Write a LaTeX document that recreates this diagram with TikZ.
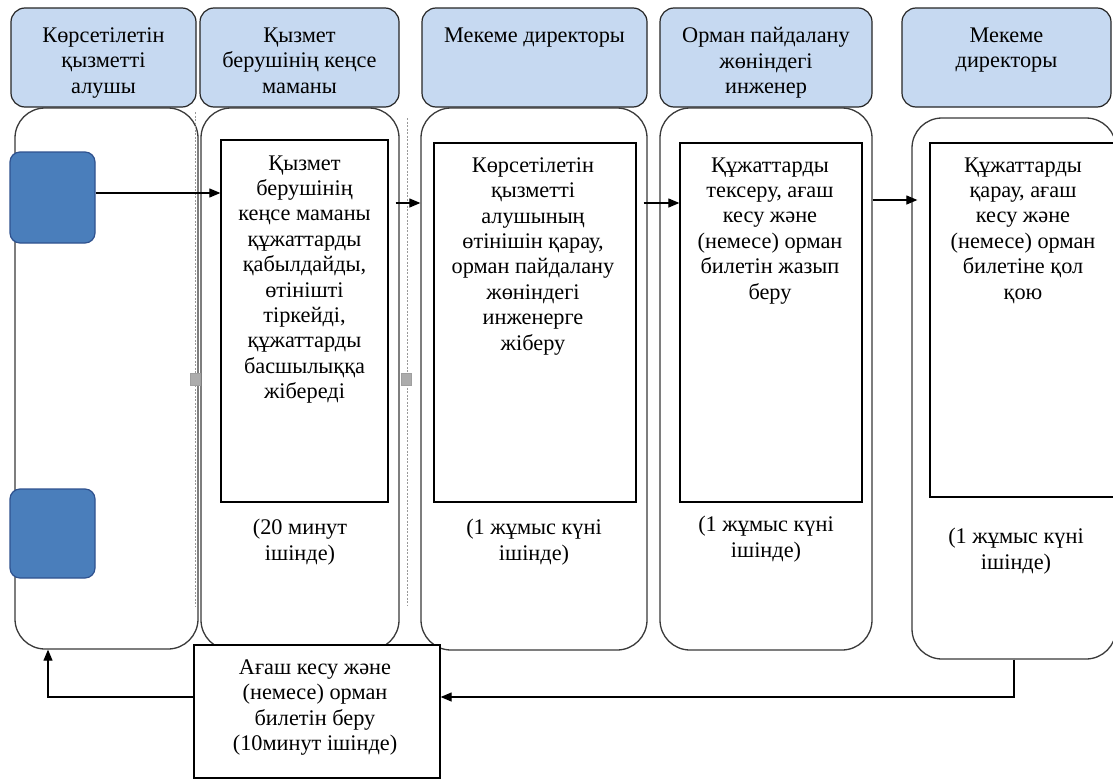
\documentclass[tikz,border=0pt]{standalone}
\usepackage{fontspec}
\setmainfont{Liberation Serif}
\usetikzlibrary{arrows.meta,calc}
\definecolor{hdrfill}{HTML}{C6D9F1}
\definecolor{bluesq}{HTML}{4A7EBB}
\definecolor{bluedraw}{HTML}{2F528F}
\definecolor{lanedraw}{HTML}{3A3A3A}
\begin{document}
\begin{tikzpicture}[x=1pt,y=-1pt,
 hdr/.style={draw=black!85, line width=1.2pt, fill=hdrfill, rounded corners=14pt, inner sep=0pt},
 lane/.style={draw=lanedraw, line width=1.3pt, fill=white, rounded corners=30pt, inner sep=0pt},
 stepbox/.style={draw=black, line width=1.3pt, fill=white, inner sep=0pt},
 txt/.style={align=center, font=\fontsize{22.3}{25.4}\selectfont, inner sep=0pt},
 bsq/.style={draw=bluedraw, line width=1.2pt, fill=bluesq, rounded corners=10pt, inner sep=0pt},
 arr/.style={draw=black, line width=1.2pt, -{Triangle[length=11pt,width=9pt]}},
 dline/.style={draw=gray!80, line width=0.7pt, dash pattern=on 2pt off 1.5pt},
 gsq/.style={fill=gray!65, draw=gray!75, inner sep=0pt, minimum width=10pt, minimum height=12pt}
]
\useasboundingbox (0,0) rectangle (1113,779);
\fill[white] (0,0) rectangle (1113,779);

% headers
\node[hdr, minimum width=185pt, minimum height=99pt] (h1) at (103.5,57.5) {};
\node[hdr, minimum width=199pt, minimum height=99pt] (h2) at (299.5,57.5) {};
\node[hdr, minimum width=225pt, minimum height=99pt] (h3) at (534.5,57.5) {};
\node[hdr, minimum width=212pt, minimum height=99pt] (h4) at (766,57.5) {};
\node[hdr, minimum width=209pt, minimum height=99pt] (h5) at (1006.5,57.5) {};

% lanes
\node[lane, minimum width=183pt, minimum height=541pt] (l1) at (106.5,378.5) {};
\node[lane, minimum width=198pt, minimum height=542pt] (l2) at (300,379) {};
\node[lane, minimum width=226pt, minimum height=542pt] (l3) at (534,379) {};
\node[lane, minimum width=212pt, minimum height=542pt] (l4) at (766,379) {};
\node[lane, minimum width=204pt, minimum height=541pt] (l5) at (1014,388.5) {};

% dashed separators
\coordinate (d1t) at (195,112);
\coordinate (d1b) at (195,607);
\coordinate (d2t) at (407,118);
\coordinate (d2b) at (407,605);
\draw[dline] (d1t) -- (d1b);
\draw[dline] (d2t) -- (d2b);
\node[gsq] (g1) at (195,379) {};
\node[gsq] (g2) at (406.5,379) {};

% inner step boxes
\node[stepbox, minimum width=167pt, minimum height=362pt] (b2) at (304.5,321) {};
\node[stepbox, minimum width=202pt, minimum height=359pt] (b3) at (535,322.5) {};
\node[stepbox, minimum width=182pt, minimum height=359pt] (b4) at (771,322.5) {};
\node[stepbox, minimum width=190pt, minimum height=354pt] (b5) at (1025,320) {};

% blue squares
\node[bsq, minimum width=85pt, minimum height=91pt] (s1) at (52.5,197.5) {};
\node[bsq, minimum width=85pt, minimum height=89pt] (s2) at (52.5,533.5) {};

% header texts
\node[txt, anchor=north] (h1t) at ($(h1.north)+(0,20)$) {Көрсетілетін\\қызметті\\алушы};
\node[txt, anchor=north] (h2t) at ($(h2.north)+(0,20)$) {Қызмет\\берушінің кеңсе\\маманы};
\node[txt, anchor=north] (h3t) at ($(h3.north)+(0,20)$) {Мекеме директоры};
\node[txt, anchor=north] (h4t) at ($(h4.north)+(0,20)$) {Орман пайдалану\\жөніндегі\\инженер};
\node[txt, anchor=north] (h5t) at ($(h5.north)+(0,20)$) {Мекеме\\директоры};

% step texts
\node[txt, anchor=north] (b2t) at ($(b2.north)+(0,16)$) {Қызмет\\берушінің\\кеңсе маманы\\құжаттарды\\қабылдайды,\\өтінішті\\тіркейді,\\құжаттарды\\басшылыққа\\жібереді};
\node[txt, anchor=north] (b3t) at ($(b3.north)+(-2,15)$) {Көрсетілетін\\қызметті\\алушының\\өтінішін қарау,\\орман пайдалану\\жөніндегі\\инженерге\\жіберу};
\node[txt, anchor=north] (b4t) at ($(b4.north)+(-1,15)$) {Құжаттарды\\тексеру, ағаш\\кесу және\\(немесе) орман\\билетін жазып\\беру};
\node[txt, anchor=north] (b5t) at ($(b5.north)+(-2,15)$) {Құжаттарды\\қарау, ағаш\\кесу және\\(немесе) орман\\билетіне қол\\қою};

% time texts
\node[txt, anchor=north] (t2) at (300,519) {(20 минут\\ішінде)};
\node[txt, anchor=north] (t3) at (534,519) {(1 жұмыс күні\\ішінде)};
\node[txt, anchor=north] (t4) at (766,516) {(1 жұмыс күні\\ішінде)};
\node[txt, anchor=north] (t5) at (1016,528) {(1 жұмыс күні\\ішінде)};

% bottom box
\node[stepbox, minimum width=246pt, minimum height=133pt] (bb) at (317,711.5) {};
\node[txt] (bbt) at ($(bb.center)+(-2,-4)$) {Ағаш кесу және\\(немесе) орман\\билетін беру\\(10минут ішінде)};

% connectors
\coordinate (ya) at (0,193);
\coordinate (yb) at (0,203);
\coordinate (yc) at (0,200);
\coordinate (yd) at (0,697);
\coordinate (c6) at (48,697);
\draw[arr] (s1.east |- ya) -- (b2.west |- ya);
\draw[arr] ($(l2.east |- yb)+(-4,0)$) -- (l3.west |- yb);
\draw[arr] ($(l3.east |- yb)+(-4,0)$) -- (b4.west |- yb);
\draw[arr] (l4.east |- yc) -- ($(l5.west |- yc)+(6,0)$);
\draw[arr] (l5.south) -- (l5.south |- yd) -- (bb.east |- yd);
\draw[arr] (bb.west |- yd) -- (c6) -- (c6 |- l1.south);
\end{tikzpicture}
\end{document}
